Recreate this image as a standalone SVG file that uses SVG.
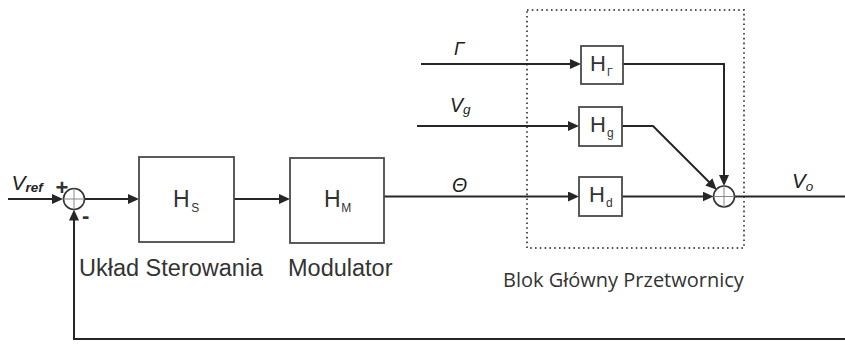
<svg xmlns="http://www.w3.org/2000/svg" width="845" height="344" viewBox="0 0 845 344">
<defs>
<style>
.box{fill:#fff;stroke:#4a4a4a;stroke-width:1.8}
.ln{fill:none;stroke:#262626;stroke-width:2}
.arr{marker-end:url(#ah)}
.sum{fill:#fff;stroke:#333;stroke-width:1.6}
.cross{stroke:#888;stroke-width:1}
.lbl{font-family:"Liberation Sans",Arial,sans-serif;fill:#333}
.it{font-family:"Liberation Sans",Arial,sans-serif;font-style:italic;fill:#222}
.cap{font-family:"Liberation Sans",Arial,sans-serif;font-size:23.5px;fill:#333}
.dot{fill:none;stroke:#555;stroke-width:2;stroke-dasharray:1.6 3.2}
</style>
<marker id="ah" markerUnits="userSpaceOnUse" markerWidth="12" markerHeight="10" refX="7" refY="5" orient="auto">
<path d="M0,0 L11,5 L0,10 Z" fill="#262626"/>
</marker>
</defs>
<rect width="845" height="344" fill="#fff"/>

<g id="blok-glowny">
<rect class="dot" x="527" y="10" width="217" height="238"/>
<text x="503" y="287" font-family="'Open Sans','Noto Sans',sans-serif" font-size="20" fill="#333">Blok Główny Przetwornicy</text>
</g>

<g id="connectors">
<line class="ln arr" x1="8" y1="199" x2="59" y2="199"/>
<line class="ln arr" x1="84.5" y1="199" x2="135" y2="199"/>
<line class="ln arr" x1="234" y1="199" x2="286" y2="199"/>
<line class="ln arr" x1="384" y1="196.5" x2="575" y2="196.5"/>
<line class="ln arr" x1="622" y1="196.5" x2="709.5" y2="196.5"/>
<line class="ln arr" x1="421" y1="64" x2="577" y2="64"/>
<polyline class="ln arr" points="623,64 724,64 724,182"/>
<line class="ln arr" x1="417" y1="126" x2="575" y2="126"/>
<polyline class="ln arr" points="622,126 653,126 713.8,186.8"/>
<line class="ln" x1="734.5" y1="196.5" x2="845" y2="196.5"/>
<polyline class="ln arr" points="845,339 74,339 74,213.5"/>
</g>

<g id="sum1">
<circle class="sum" cx="74" cy="199" r="10.5"/>
<line class="cross" x1="63.5" y1="199" x2="84.5" y2="199"/>
<line class="cross" x1="74" y1="188.5" x2="74" y2="209.5"/>
<text class="lbl" x="55.5" y="194.5" font-size="22" font-weight="bold" fill="#222">+</text>
<text class="lbl" x="82" y="223" font-size="22" font-weight="bold" fill="#222">-</text>
</g>

<g id="vref-label">
<text class="it" x="11.5" y="190" font-size="21">V<tspan font-size="13.5" dy="2" font-weight="bold">ref</tspan></text>
</g>

<g id="HS">
<rect class="box" x="139" y="157" width="95" height="85"/>
<text class="lbl" x="173" y="207" font-size="23">H<tspan font-size="12" dx="1.5" dy="5">S</tspan></text>
<text class="cap" x="79" y="276">Układ Sterowania</text>
</g>

<g id="HM">
<rect class="box" x="290" y="158" width="94" height="85"/>
<text class="lbl" x="324" y="207" font-size="23">H<tspan font-size="12" dx="0.5" dy="5">M</tspan></text>
<text class="cap" x="288" y="276">Modulator</text>
</g>

<g id="theta-label">
<text class="it" x="452" y="192" font-size="19.5">Θ</text>
</g>

<g id="HGamma">
<rect class="box" x="581" y="46" width="42" height="38"/>
<text class="lbl" x="590" y="70.5" font-size="22">H<tspan font-size="11" dx="1" dy="5">Γ</tspan></text>
</g>
<g id="gamma-label">
<text class="it" x="454" y="55" font-size="18.5">Γ</text>
</g>

<g id="Hg">
<rect class="box" x="579" y="107" width="43" height="39"/>
<text class="lbl" x="590" y="132" font-size="22">H<tspan font-size="12" dx="1" dy="5">g</tspan></text>
</g>
<g id="vg-label">
<text class="it" x="450" y="112" font-size="19.5">V<tspan font-size="13.5" dy="2">g</tspan></text>
</g>

<g id="Hd">
<rect class="box" x="579" y="177" width="43" height="39"/>
<text class="lbl" x="589" y="202" font-size="22">H<tspan font-size="12" dx="1" dy="5">d</tspan></text>
</g>

<g id="sum2">
<circle class="sum" cx="724" cy="196.5" r="10.5"/>
<line class="cross" x1="713.5" y1="196.5" x2="734.5" y2="196.5"/>
<line class="cross" x1="724" y1="186" x2="724" y2="207"/>
</g>

<g id="vo-label">
<text class="it" x="792" y="188" font-size="20.5">V<tspan font-size="13.5" dy="3">o</tspan></text>
</g>
</svg>
